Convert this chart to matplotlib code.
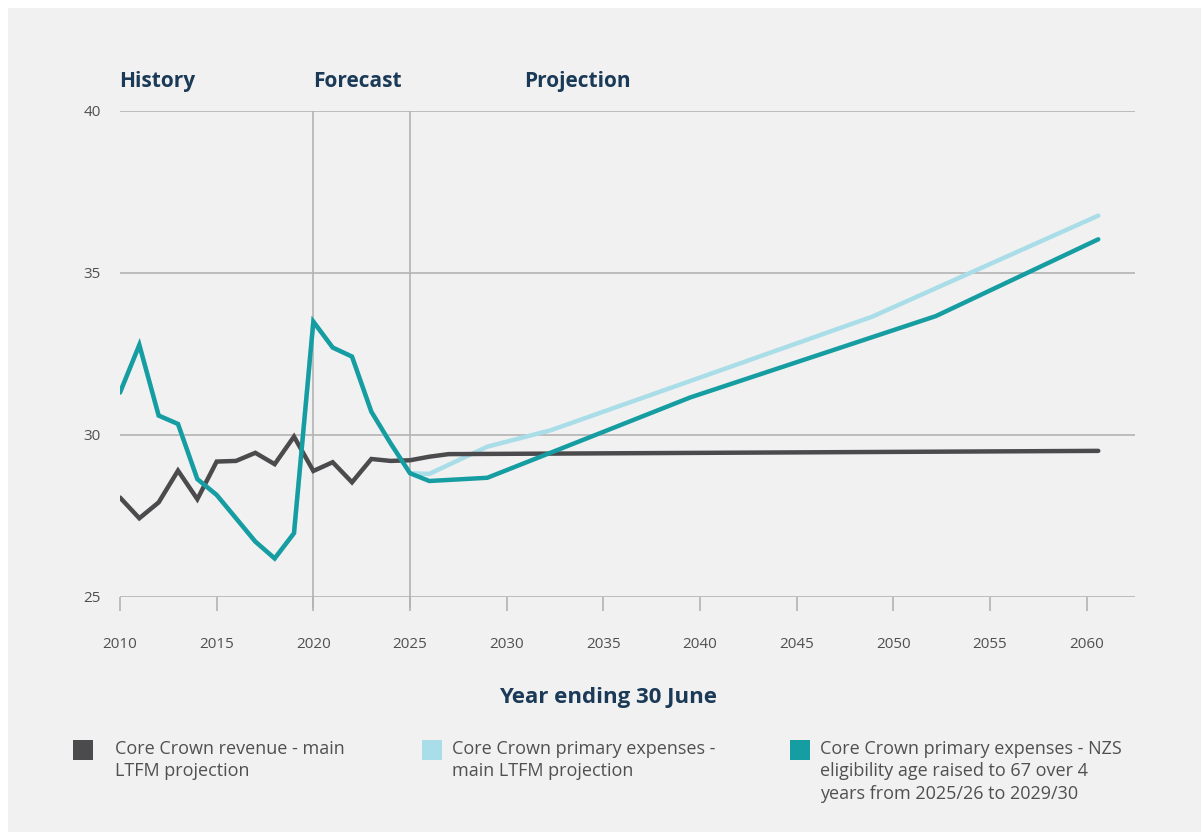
import matplotlib
matplotlib.use("Agg")
from matplotlib import pyplot as plt
from matplotlib.patches import Rectangle

plt.rcParams['font.family'] = ['Open Sans', 'DejaVu Sans']

# revenue: annual history/forecast, then flat projection
rev_years = [2010, 2011, 2012, 2013, 2014, 2015, 2016, 2017, 2018, 2019,
             2020, 2021, 2022, 2023, 2024, 2025, 2026, 2027, 2060.6]
revenue = [28.07, 27.43, 27.92, 28.90, 28.02, 29.18, 29.20, 29.45, 29.10, 29.95,
           28.89, 29.16, 28.54, 29.26, 29.20, 29.22, 29.33, 29.41, 29.51]

hist_years = [2010, 2011, 2012, 2013, 2014, 2015, 2016, 2017, 2018, 2019,
              2020, 2021, 2022, 2023, 2024, 2025]
hist_expenses = [31.31, 32.78, 30.60, 30.34, 28.64, 28.15, 27.43, 26.71, 26.19, 26.97,
                 33.50, 32.70, 32.42, 30.72, 29.74, 28.82]

# main LTFM projection of expenses
main_years = hist_years + [2026, 2029, 2032.3, 2048.9, 2060.6]
main_expenses = hist_expenses + [28.80, 29.64, 30.15, 33.65, 36.77]

# NZS eligibility age raised to 67
nzs_years = hist_years + [2026, 2029, 2039.5, 2052.2, 2060.6]
nzs_expenses = hist_expenses + [28.58, 28.68, 31.16, 33.67, 36.04]

x_ticks = list(range(2010, 2061, 5))
y_ticks = [25, 30, 35, 40]

DARK = '#4b4b4d'
LIGHT = '#a9dde8'
TEAL = '#169da1'
NAVY = '#1b3a57'
GRID = '#b3b3b3'
BG = '#f1f1f1'
TEXT = '#505050'

W, H = 1203, 832
fig = plt.figure(figsize=(W / 100, H / 100), dpi=100)
fig.patch.set_facecolor('white')
fig.patches.append(Rectangle((8 / W, 0), (1201 - 8) / W, (H - 8) / H,
                             transform=fig.transFigure, facecolor=BG,
                             edgecolor='none', zorder=-10))

ax = fig.add_axes([120 / W, 1 - 597 / H, (1135 - 120) / W, (597 - 111) / H])
ax.set_facecolor('none')
ax.set_xlim(2010, 2062.5)
ax.set_ylim(25, 40)

for s in ax.spines.values():
    s.set_visible(False)

for y in y_ticks:
    ax.axhline(y, color=GRID, lw=1.2, zorder=1)
for x in (2020, 2025):
    ax.axvline(x, color=GRID, lw=1.2, zorder=1)
    ax.plot([x, x], [25, 25 - 10 / 32.4], color=GRID, lw=1.2, clip_on=False)

ax.set_xticks(x_ticks)
ax.set_yticks(y_ticks)
ax.tick_params(axis='x', length=10, width=1.2, color=GRID, pad=19,
               labelsize=11, labelcolor=TEXT)
ax.tick_params(axis='y', length=0, pad=14, labelsize=11, labelcolor=TEXT)

kw = dict(lw=3.2, solid_capstyle='round', solid_joinstyle='miter', zorder=3)
ax.plot(main_years, main_expenses, color=LIGHT, **kw)
ax.plot(rev_years, revenue, color=DARK, **kw)
ax.plot(nzs_years, nzs_expenses, color=TEAL, **kw)

# period headers above the plot, sharing one baseline
for label, xpx in (("History", 119), ("Forecast", 313), ("Projection", 524)):
    fig.text(xpx / W, 1 - 87 / H, label, color=NAVY, fontsize=15,
             fontweight='bold', va='baseline', ha='left')

fig.text(608 / W, 1 - 697 / H, "Year ending 30 June", color=NAVY,
         fontsize=16, fontweight='bold', ha='center', va='center')

# legend drawn by hand in three columns
legend_items = [
    (DARK, 73, 115, "Core Crown revenue - main\nLTFM projection"),
    (LIGHT, 422, 452, "Core Crown primary expenses -\nmain LTFM projection"),
    (TEAL, 790, 820, "Core Crown primary expenses - NZS\neligibility age raised to 67 over 4\nyears from 2025/26 to 2029/30"),
]
for color, sx, tx, text in legend_items:
    fig.patches.append(Rectangle((sx / W, 1 - 760 / H), 20 / W, 20 / H,
                                 transform=fig.transFigure, facecolor=color,
                                 edgecolor='none'))
    fig.text(tx / W, 1 - 740 / H, text, color=TEXT, fontsize=13,
             ha='left', va='top', linespacing=1.32)

plt.savefig('out.png', dpi=100, facecolor=fig.get_facecolor())
plt.close()
